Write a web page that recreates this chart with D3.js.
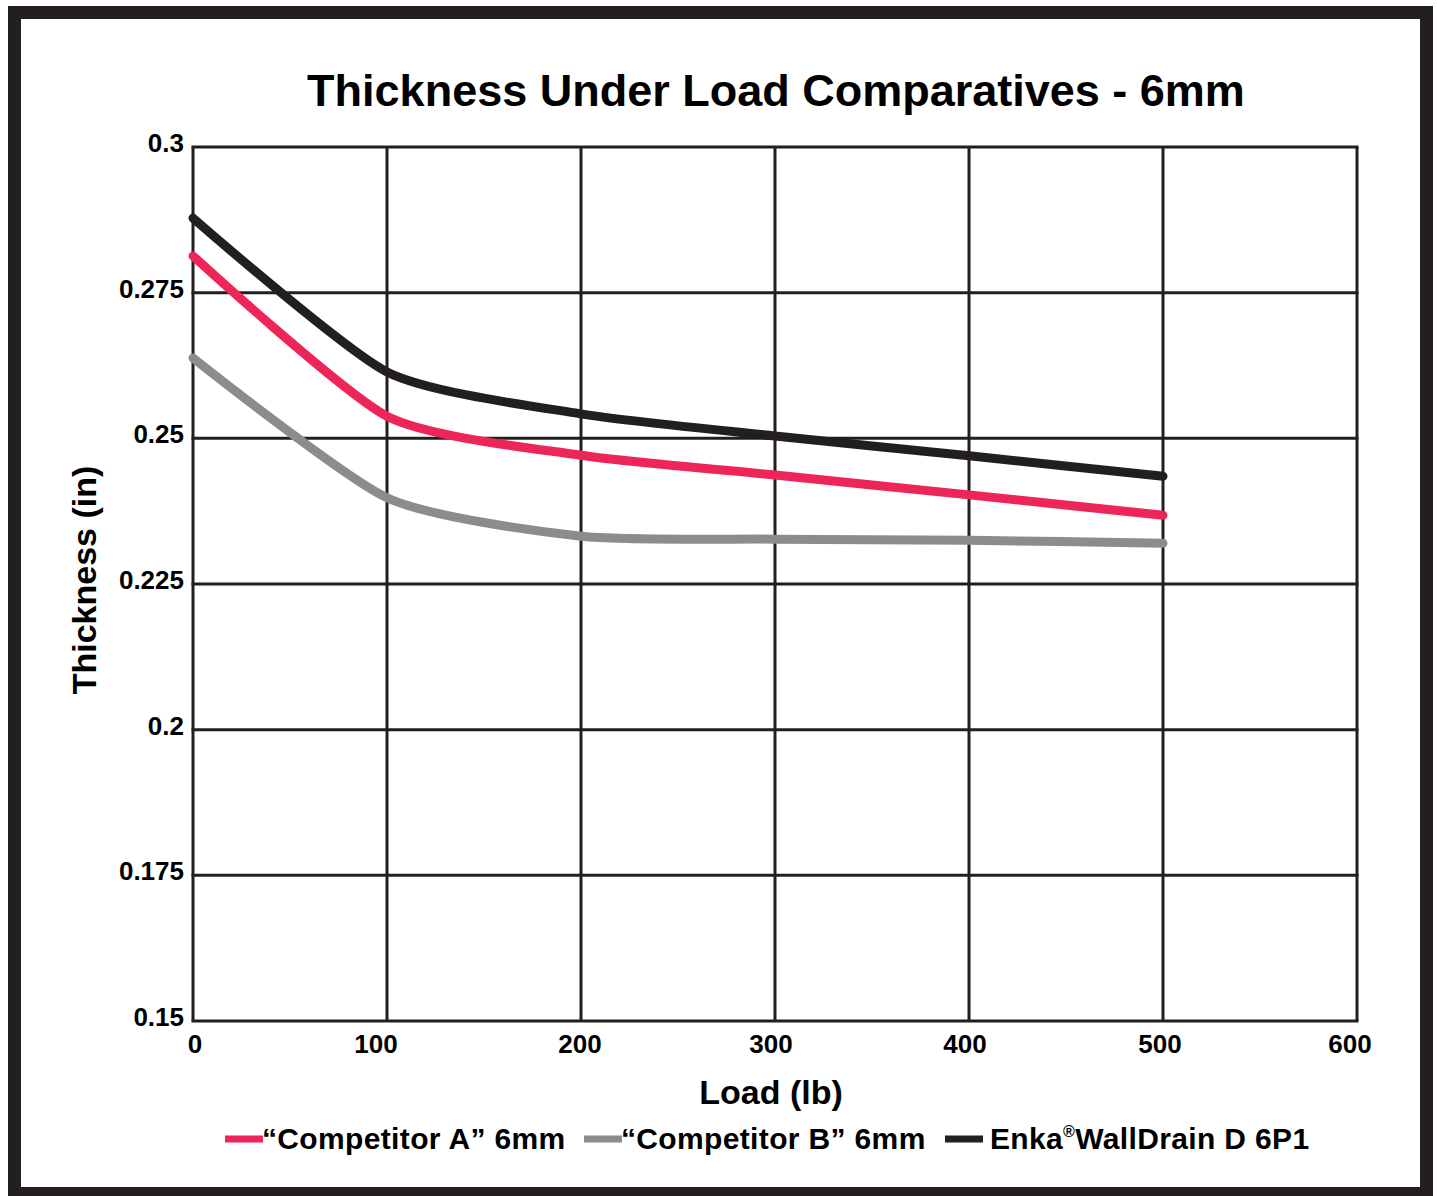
<!DOCTYPE html>
<html>
<head>
<meta charset="utf-8">
<script src="https://d3js.org/d3.v7.min.js"></script>
<style>
  body { margin: 0; background: #fff; }
  text { font-family: "Liberation Sans", Arial, sans-serif; font-weight: bold; fill: #000; }
</style>
</head>
<body>
<svg width="1437" height="1196"></svg>
<script>
  // data
  var loads = [0, 100, 200, 300, 400, 500];
  var competitorA = [0.2813, 0.2538, 0.2471, 0.2437, 0.2403, 0.2368];
  var competitorB = [0.2638, 0.2398, 0.2332, 0.2327, 0.2325, 0.2320];
  var enka = [0.2878, 0.2614, 0.2542, 0.2504, 0.2470, 0.2435];
  var xTicks = [0, 100, 200, 300, 400, 500, 600];
  var yTicks = [0.15, 0.175, 0.2, 0.225, 0.25, 0.275, 0.3];
  var seriesNames = ["\u201CCompetitor A\u201D 6mm", "\u201CCompetitor B\u201D 6mm", "Enka"];
  var seriesColors = ["#ee2558", "#8c8c8c", "#231f20"];

  var svg = d3.select("svg"),
    width = +svg.attr("width"),
    height = +svg.attr("height");
  var dark = "#231f20";

  // frame
  svg.append("rect")
    .attr("x", 14.5).attr("y", 12.5)
    .attr("width", 1412).attr("height", 1181)
    .attr("fill", "none").attr("stroke", dark).attr("stroke-width", 13);

  var pLeft = 193, pRight = 1357, pTop = 147, pBottom = 1021;
  var xscale = d3.scaleLinear().domain([0, 600]).range([pLeft, pRight]);
  var yscale = d3.scaleLinear().domain([0.15, 0.3]).range([pBottom, pTop]);

  var gGrid = svg.append("g");
  gGrid.selectAll("line.v")
    .data(xTicks).enter().append("line")
    .attr("class", "v")
    .attr("x1", function(d) { return xscale(d); })
    .attr("x2", function(d) { return xscale(d); })
    .attr("y1", pTop).attr("y2", pBottom)
    .attr("stroke", dark).attr("stroke-width", 3);
  gGrid.selectAll("line.h")
    .data(yTicks).enter().append("line")
    .attr("class", "h")
    .attr("y1", function(d) { return yscale(d); })
    .attr("y2", function(d) { return yscale(d); })
    .attr("x1", pLeft - 1.5).attr("x2", pRight + 1.5)
    .attr("stroke", dark).attr("stroke-width", 3);

  // tick labels (the labels sit a little off their grid lines in the original)
  var xLabelShift = [2, -11, -1, -4, -4, -3, -7];
  svg.append("g").selectAll("text")
    .data(xTicks).enter().append("text")
    .attr("x", function(d, i) { return xscale(d) + xLabelShift[i]; })
    .attr("y", 1053)
    .attr("text-anchor", "middle")
    .attr("font-size", 26)
    .text(function(d) { return d; });
  svg.append("g").selectAll("text")
    .data(yTicks).enter().append("text")
    .attr("x", 184)
    .attr("y", function(d) { return yscale(d) + 5; })
    .attr("text-anchor", "end")
    .attr("font-size", 26)
    .text(function(d) { return d; });

  // lines
  var line = d3.line()
    .x(function(d, i) { return xscale(loads[i]); })
    .y(function(d) { return yscale(d); })
    .curve(d3.curveCardinal.tension(0.35));
  var allSeries = [competitorA, competitorB, enka];
  svg.append("g").selectAll("path")
    .data(allSeries).enter().append("path")
    .attr("d", line)
    .attr("fill", "none")
    .attr("stroke", function(d, i) { return seriesColors[i]; })
    .attr("stroke-width", 9)
    .attr("stroke-linecap", "round");

  // titles
  svg.append("text")
    .attr("x", 776).attr("y", 106)
    .attr("text-anchor", "middle")
    .attr("font-size", 45)
    .text("Thickness Under Load Comparatives - 6mm");
  svg.append("text")
    .attr("transform", "translate(96,580) rotate(-90)")
    .attr("text-anchor", "middle")
    .attr("font-size", 34)
    .text("Thickness (in)");
  svg.append("text")
    .attr("x", 771).attr("y", 1104)
    .attr("text-anchor", "middle")
    .attr("font-size", 34)
    .text("Load (lb)");

  // legend
  var legendX = [225, 584, 945];
  var gLegend = svg.append("g");
  gLegend.selectAll("line")
    .data(seriesNames).enter().append("line")
    .attr("x1", function(d, i) { return legendX[i]; })
    .attr("x2", function(d, i) { return legendX[i] + 38; })
    .attr("y1", 1139).attr("y2", 1139)
    .attr("stroke", function(d, i) { return seriesColors[i]; })
    .attr("stroke-width", 7);
  var lt = gLegend.selectAll("text")
    .data(seriesNames).enter().append("text")
    .attr("x", function(d, i) { return legendX[i] + (i === 2 ? 45 : 37); })
    .attr("y", 1149)
    .attr("font-size", 30)
    .attr("letter-spacing", 0.35)
    .text(function(d) { return d; });
  lt.filter(function(d, i) { return i === 2; })
    .append("tspan").attr("font-size", 16).attr("dy", -12).text("\u00AE");
  lt.filter(function(d, i) { return i === 2; })
    .append("tspan").attr("dy", 12).text("WallDrain D 6P1");
</script>
</body>
</html>
